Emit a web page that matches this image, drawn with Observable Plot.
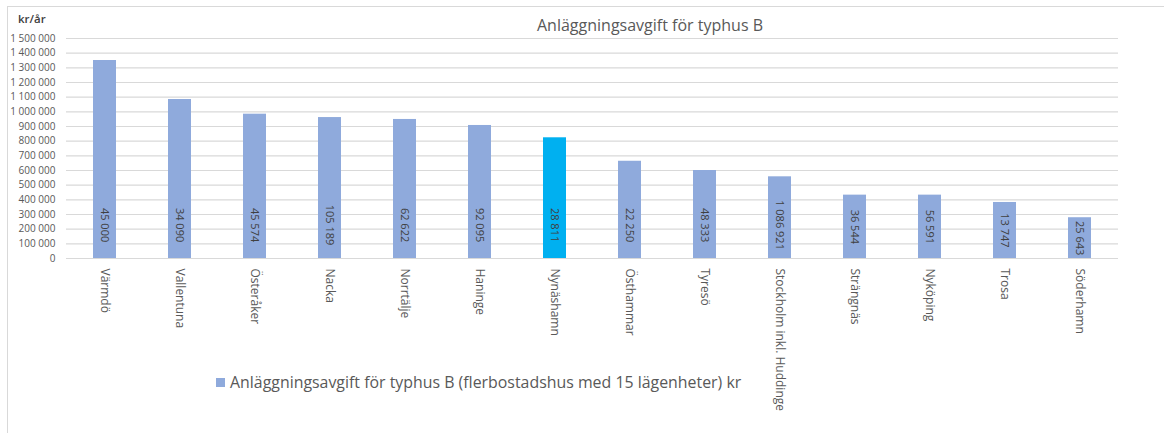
<!DOCTYPE html>
<html>
<head>
<meta charset="utf-8">
<script src="https://cdn.jsdelivr.net/npm/d3@7"></script>
<script src="https://cdn.jsdelivr.net/npm/@observablehq/plot@0.6"></script>
<style>
  html, body { margin: 0; padding: 0; background: #fff; }
  #wrap { position: relative; width: 1164px; height: 433px; overflow: hidden; font-family: "Open Sans", sans-serif; }
  #frame { position: absolute; left: 7px; top: 6px; width: 1200px; height: 500px; border-top: 1.5px solid #d9d9d9; border-left: 1.5px solid #d9d9d9; box-sizing: border-box; }
  #chart { position: absolute; left: 0; top: 0; }
  #title { position: absolute; top: 14px; left: 0; width: 1300px; text-align: center; font-size: 16px; color: #595959; }
  #unit { position: absolute; left: 18px; top: 11px; font-size: 11.5px; font-weight: 600; color: #404040; }
  #legend { position: absolute; left: 216px; top: 371px; font-size: 15.9px; color: #595959; white-space: nowrap; }
  #legend .sw { display: inline-block; width: 9px; height: 9px; background: #8FAADC; margin-right: 5px; vertical-align: 1px; }
</style>
</head>
<body>
<div id="wrap">
  <div id="frame"></div>
  <div id="chart"></div>
  <div id="title">Anläggningsavgift för typhus B</div>
  <div id="unit">kr/år</div>
  <div id="legend"><span class="sw"></span>Anläggningsavgift för typhus B (flerbostadshus med 15 lägenheter) kr</div>
</div>
<script>
// Categories (municipalities)
const municipalities = ["Värmdö", "Vallentuna", "Österåker", "Nacka", "Norrtälje", "Haninge", "Nynäshamn", "Östhammar", "Tyresö", "Stockholm inkl. Huddinge", "Strängnäs", "Nyköping", "Trosa", "Söderhamn"];
// Connection fee (kr) – bar heights
const fees = [1350000, 1084000, 984000, 961000, 948000, 907000, 823000, 663000, 600000, 557000, 432000, 432000, 382000, 278000];
// Numbers printed inside the bars
const barLabels = [45000, 34090, 45574, 105189, 62622, 92095, 28811, 22250, 48333, 1086921, 36544, 56591, 13747, 25643];
// Highlighted category
const highlighted = "Nynäshamn";
// Y tick values
const yTicks = [0, 100000, 200000, 300000, 400000, 500000, 600000, 700000, 800000, 900000, 1000000, 1100000, 1200000, 1300000, 1400000, 1500000];

const fmt = v => d3.format(",")(v).replace(/,/g, "\u00a0");
const data = municipalities.map((m, i) => ({name: m, fee: fees[i], label: fmt(barLabels[i])}));

const chart = Plot.plot({
  width: 1164,
  height: 433,
  marginLeft: 66,
  marginRight: 46,
  marginTop: 38,
  marginBottom: 175,
  style: {fontFamily: "'Open Sans', sans-serif", background: "transparent", color: "#595959"},
  x: {domain: municipalities, paddingInner: 0.69, paddingOuter: 0.345, label: null},
  y: {domain: [0, 1500000], label: null},
  marks: [
    Plot.gridY(yTicks, {stroke: "#d9d9d9", strokeOpacity: 1, strokeWidth: 1.2}),
    Plot.barY(data, {x: "name", y: "fee", fill: d => d.name === highlighted ? "#00B0F0" : "#8FAADC"}),
    Plot.text(data, {x: "name", y: d => Math.min(d.fee / 2, 228000), text: "label", rotate: 90, fontSize: 11, fill: "#404040"}),
    Plot.axisY({ticks: yTicks, tickFormat: fmt, tickSize: 0, tickPadding: 11, label: null, fontSize: 10, fill: "#595959"}),
    Plot.axisX({tickSize: 0, tickPadding: 10, tickRotate: 90, label: null, fontSize: 12, fill: "#595959"})
  ]
});
document.getElementById("chart").appendChild(chart);
</script>
</body>
</html>
